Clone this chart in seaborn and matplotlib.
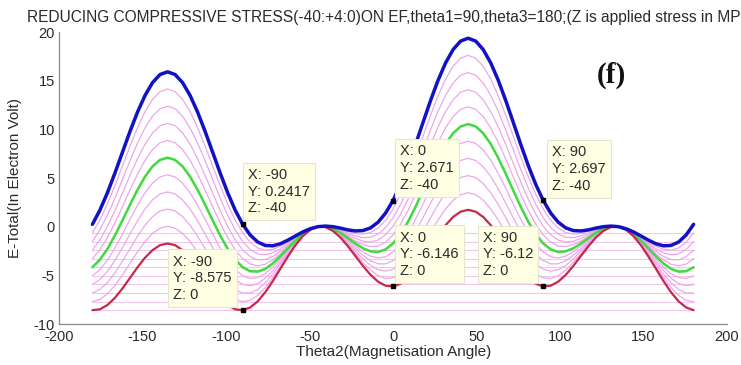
import matplotlib
matplotlib.use("Agg")
import matplotlib.pyplot as plt
import seaborn as sns
import pandas as pd

# ---------------- data ----------------
x_deg = [-180, -175.5, -171, -166.5, -162, -157.5, -153, -148.5, -144, -139.5,
         -135, -130.5, -126, -121.5, -117, -112.5, -108, -103.5, -99, -94.5,
         -90, -85.5, -81, -76.5, -72, -67.5, -63, -58.5, -54, -49.5,
         -45, -40.5, -36, -31.5, -27, -22.5, -18, -13.5, -9, -4.5,
         0, 4.5, 9, 13.5, 18, 22.5, 27, 31.5, 36, 40.5,
         45, 49.5, 54, 58.5, 63, 67.5, 72, 76.5, 81, 85.5,
         90, 94.5, 99, 103.5, 108, 112.5, 117, 121.5, 126, 130.5,
         135, 139.5, 144, 148.5, 153, 157.5, 162, 166.5, 171, 175.5, 180]

z_levels = [0, -4, -8, -12, -16, -20, -24, -28, -32, -36, -40]

e_z0 = [-8.58, -8.49, -8.05, -7.31, -6.35, -5.27, -4.18, -3.19, -2.41, -1.90, -1.73,
        -1.90, -2.41, -3.19, -4.18, -5.27, -6.35, -7.31, -8.05, -8.49, -8.58,
        -8.30, -7.67, -6.74, -5.60, -4.34, -3.08, -1.92, -0.97, -0.32, 0.00,
        -0.05, -0.43, -1.11, -2.01, -3.02, -4.03, -4.94, -5.64, -6.06, -6.14,
        -5.87, -5.26, -4.37, -3.28, -2.09, -0.90, 0.16, 1.00, 1.54, 1.73,
        1.54, 1.00, 0.16, -0.90, -2.09, -3.28, -4.37, -5.26, -5.87, -6.14,
        -6.06, -5.64, -4.94, -4.03, -3.02, -2.01, -1.11, -0.43, -0.05, 0.00,
        -0.32, -0.97, -1.92, -3.08, -4.34, -5.60, -6.74, -7.67, -8.30, -8.58]
e_z4 = [-7.70, -7.47, -6.90, -6.03, -4.95, -3.77, -2.59, -1.53, -0.69, -0.15, 0.04,
        -0.15, -0.69, -1.53, -2.59, -3.77, -4.95, -6.03, -6.90, -7.47, -7.70,
        -7.56, -7.06, -6.26, -5.24, -4.08, -2.91, -1.82, -0.93, -0.30, 0.00,
        -0.03, -0.39, -1.02, -1.84, -2.76, -3.67, -4.46, -5.03, -5.32, -5.26,
        -4.85, -4.11, -3.09, -1.88, -0.58, 0.69, 1.83, 2.72, 3.29, 3.49,
        3.29, 2.72, 1.83, 0.69, -0.58, -1.88, -3.09, -4.11, -4.85, -5.26,
        -5.32, -5.03, -4.46, -3.67, -2.76, -1.84, -1.02, -0.39, -0.03, 0.00,
        -0.30, -0.93, -1.82, -2.91, -4.08, -5.24, -6.26, -7.06, -7.56, -7.70]
e_z8 = [-6.82, -6.45, -5.75, -4.75, -3.55, -2.26, -0.99, 0.14, 1.03, 1.61, 1.80,
        1.61, 1.03, 0.14, -0.99, -2.26, -3.55, -4.75, -5.75, -6.45, -6.82,
        -6.81, -6.45, -5.78, -4.87, -3.82, -2.74, -1.73, -0.89, -0.29, 0.00,
        -0.02, -0.35, -0.92, -1.67, -2.50, -3.31, -3.98, -4.42, -4.57, -4.38,
        -3.83, -2.95, -1.81, -0.48, 0.92, 2.29, 3.49, 4.44, 5.05, 5.25,
        5.05, 4.44, 3.49, 2.29, 0.92, -0.48, -1.81, -2.95, -3.83, -4.38,
        -4.57, -4.42, -3.98, -3.31, -2.50, -1.67, -0.92, -0.35, -0.02, 0.00,
        -0.29, -0.89, -1.73, -2.74, -3.82, -4.87, -5.78, -6.45, -6.81, -6.82]
e_z12 = [-5.94, -5.43, -4.59, -3.47, -2.15, -0.76, 0.60, 1.81, 2.75, 3.36, 3.57,
         3.36, 2.75, 1.81, 0.60, -0.76, -2.15, -3.47, -4.59, -5.43, -5.94,
         -6.07, -5.84, -5.30, -4.51, -3.57, -2.57, -1.63, -0.84, -0.28, 0.00,
         -0.01, -0.30, -0.83, -1.50, -2.25, -2.94, -3.50, -3.81, -3.83, -3.50,
         -2.81, -1.80, -0.53, 0.92, 2.43, 3.88, 5.16, 6.16, 6.80, 7.02,
         6.80, 6.16, 5.16, 3.88, 2.43, 0.92, -0.53, -1.80, -2.81, -3.50,
         -3.83, -3.81, -3.50, -2.94, -2.25, -1.50, -0.83, -0.30, -0.01, 0.00,
         -0.28, -0.84, -1.63, -2.57, -3.57, -4.51, -5.30, -5.84, -6.07, -5.94]
e_z16 = [-5.05, -4.41, -3.44, -2.19, -0.75, 0.75, 2.20, 3.48, 4.47, 5.11, 5.33,
         5.11, 4.47, 3.48, 2.20, 0.75, -0.75, -2.19, -3.44, -4.41, -5.05,
         -5.32, -5.23, -4.82, -4.15, -3.31, -2.40, -1.54, -0.80, -0.27, 0.00,
         0.00, -0.26, -0.73, -1.34, -1.99, -2.58, -3.02, -3.21, -3.09, -2.61,
         -1.79, -0.64, 0.76, 2.32, 3.93, 5.48, 6.83, 7.88, 8.55, 8.78,
         8.55, 7.88, 6.83, 5.48, 3.93, 2.32, 0.76, -0.64, -1.79, -2.61,
         -3.09, -3.21, -3.02, -2.58, -1.99, -1.34, -0.73, -0.26, 0.00, 0.00,
         -0.27, -0.80, -1.54, -2.40, -3.31, -4.15, -4.82, -5.23, -5.32, -5.05]
e_z20 = [-4.17, -3.39, -2.28, -0.90, 0.65, 2.25, 3.79, 5.14, 6.19, 6.86, 7.09,
         6.86, 6.19, 5.14, 3.79, 2.25, 0.65, -0.90, -2.28, -3.39, -4.17,
         -4.58, -4.62, -4.34, -3.78, -3.05, -2.23, -1.44, -0.76, -0.26, 0.00,
         0.01, -0.22, -0.63, -1.17, -1.73, -2.22, -2.53, -2.60, -2.34, -1.73,
         -0.77, 0.51, 2.04, 3.72, 5.44, 7.07, 8.50, 9.60, 10.30, 10.54,
         10.30, 9.60, 8.50, 7.07, 5.44, 3.72, 2.04, 0.51, -0.77, -1.73,
         -2.34, -2.60, -2.53, -2.22, -1.73, -1.17, -0.63, -0.22, 0.01, 0.00,
         -0.26, -0.76, -1.44, -2.23, -3.05, -3.78, -4.34, -4.62, -4.58, -4.17]
e_z24 = [-3.29, -2.37, -1.13, 0.38, 2.05, 3.76, 5.39, 6.81, 7.91, 8.62, 8.86,
         8.62, 7.91, 6.81, 5.39, 3.76, 2.05, 0.38, -1.13, -2.37, -3.29,
         -3.84, -4.02, -3.86, -3.42, -2.79, -2.07, -1.34, -0.71, -0.25, 0.00,
         0.02, -0.17, -0.54, -1.00, -1.47, -1.85, -2.05, -1.99, -1.60, -0.85,
         0.25, 1.66, 3.32, 5.12, 6.94, 8.67, 10.16, 11.32, 12.06, 12.31,
         12.06, 11.32, 10.16, 8.67, 6.94, 5.12, 3.32, 1.66, 0.25, -0.85,
         -1.60, -1.99, -2.05, -1.85, -1.47, -1.00, -0.54, -0.17, 0.02, 0.00,
         -0.25, -0.71, -1.34, -2.07, -2.79, -3.42, -3.86, -4.02, -3.84, -3.29]
e_z28 = [-2.41, -1.35, 0.03, 1.66, 3.45, 5.26, 6.98, 8.48, 9.63, 10.37, 10.62,
         10.37, 9.63, 8.48, 6.98, 5.26, 3.45, 1.66, 0.03, -1.35, -2.41,
         -3.09, -3.41, -3.37, -3.06, -2.53, -1.90, -1.25, -0.67, -0.24, 0.00,
         0.03, -0.13, -0.44, -0.83, -1.21, -1.49, -1.57, -1.38, -0.85, 0.03,
         1.27, 2.82, 4.60, 6.52, 8.45, 10.26, 11.83, 13.04, 13.81, 14.07,
         13.81, 13.04, 11.83, 10.26, 8.45, 6.52, 4.60, 2.82, 1.27, 0.03,
         -0.85, -1.38, -1.57, -1.49, -1.21, -0.83, -0.44, -0.13, 0.03, 0.00,
         -0.24, -0.67, -1.25, -1.90, -2.53, -3.06, -3.37, -3.41, -3.09, -2.41]
e_z32 = [-1.53, -0.33, 1.18, 2.94, 4.85, 6.77, 8.58, 10.14, 11.35, 12.12, 12.38,
         12.12, 11.35, 10.14, 8.58, 6.77, 4.85, 2.94, 1.18, -0.33, -1.53,
         -2.35, -2.80, -2.89, -2.69, -2.27, -1.73, -1.15, -0.63, -0.23, 0.00,
         0.04, -0.09, -0.35, -0.66, -0.95, -1.13, -1.09, -0.77, -0.11, 0.91,
         2.29, 3.97, 5.88, 7.92, 9.96, 11.86, 13.50, 14.76, 15.56, 15.83,
         15.56, 14.76, 13.50, 11.86, 9.96, 7.92, 5.88, 3.97, 2.29, 0.91,
         -0.11, -0.77, -1.09, -1.13, -0.95, -0.66, -0.35, -0.09, 0.04, 0.00,
         -0.23, -0.63, -1.15, -1.73, -2.27, -2.69, -2.89, -2.80, -2.35, -1.53]
e_z36 = [-0.64, 0.68, 2.33, 4.22, 6.25, 8.27, 10.17, 11.81, 13.08, 13.87, 14.15,
         13.87, 13.08, 11.81, 10.17, 8.27, 6.25, 4.22, 2.33, 0.68, -0.64,
         -1.61, -2.19, -2.41, -2.33, -2.02, -1.56, -1.06, -0.58, -0.22, 0.00,
         0.05, -0.04, -0.25, -0.49, -0.70, -0.76, -0.61, -0.16, 0.63, 1.80,
         3.31, 5.13, 7.17, 9.32, 11.46, 13.45, 15.17, 16.48, 17.31, 17.60,
         17.31, 16.48, 15.17, 13.45, 11.46, 9.32, 7.17, 5.13, 3.31, 1.80,
         0.63, -0.16, -0.61, -0.76, -0.70, -0.49, -0.25, -0.04, 0.05, 0.00,
         -0.22, -0.58, -1.06, -1.56, -2.02, -2.33, -2.41, -2.19, -1.61, -0.64]
e_z40 = [0.24, 1.70, 3.49, 5.51, 7.65, 9.78, 11.77, 13.48, 14.80, 15.63, 15.91,
         15.63, 14.80, 13.48, 11.77, 9.78, 7.65, 5.51, 3.49, 1.70, 0.24,
         -0.86, -1.58, -1.93, -1.97, -1.76, -1.39, -0.96, -0.54, -0.21, 0.00,
         0.06, 0.00, -0.15, -0.33, -0.44, -0.40, -0.13, 0.45, 1.38, 2.68,
         4.33, 6.28, 8.45, 10.72, 12.97, 15.05, 16.83, 18.20, 19.07, 19.36,
         19.07, 18.20, 16.83, 15.05, 12.97, 10.72, 8.45, 6.28, 4.33, 2.68,
         1.38, 0.45, -0.13, -0.40, -0.44, -0.33, -0.15, 0.00, 0.06, 0.00,
         -0.21, -0.54, -0.96, -1.39, -1.76, -1.97, -1.93, -1.58, -0.86, 0.24]

hline_levels = [-8.58, -7.70, -6.82, -5.94, -5.05, -4.17, -3.29, -2.41, -1.53, -0.64]
hline_span = [-180, 180]

tip_x = [-90, -90, 0, 0, 90, 90]
tip_y = [0.2417, -8.575, 2.671, -6.146, 2.697, -6.12]
tip_z = [-40, 0, -40, 0, -40, 0]

title_text = ("REDUCING COMPRESSIVE STRESS(-40:+4:0)ON EF,theta1=90,theta3=180;"
              "(Z is applied stress in MPa)")
x_label = "Theta2(Magnetisation Angle)"
y_label = "E-Total(In Electron Volt)"
panel_label = "(f)"
x_ticks = [-200, -150, -100, -50, 0, 50, 100, 150, 200]
y_ticks = [-10, -5, 0, 5, 10, 15, 20]

# ---------------- build table ----------------
curves = [e_z0, e_z4, e_z8, e_z12, e_z16, e_z20, e_z24, e_z28, e_z32, e_z36, e_z40]
rows = []
for z, vals in zip(z_levels, curves):
    for xv, yv in zip(x_deg, vals):
        rows.append({"theta": xv, "energy": yv, "Z": z})
df = pd.DataFrame(rows)

# ---------------- style ----------------
sns.set_style("white")
plt.rcParams["font.family"] = ["Liberation Sans", "DejaVu Sans"]
axis_gray = "#8a8a8a"
text_col = "#2a2a2a"

fig = plt.figure(figsize=(7.41, 3.65), dpi=100)
ax = fig.add_axes([59 / 741, 1 - 324 / 365, (727 - 59) / 741, (324 - 32) / 365])

# faint horizontal lines
for lev in hline_levels:
    ax.plot(hline_span, [lev, lev], color="#F3C6EC", lw=0.8, zorder=1)

def style_for(z):
    if z == 0:
        return "#C8284A", 1.6, 4
    if z == -20:
        return "#3FDA3F", 1.8, 4
    if z == -40:
        return "#1212C4", 2.5, 5
    return "#EDA2EA", 0.85, 2

order = [z for z in z_levels if z not in (0, -20, -40)] + [-20, 0, -40]
for z in order:
    col, lw, zo = style_for(z)
    sub = df[df["Z"] == z]
    sns.lineplot(data=sub, x="theta", y="energy", color=col, linewidth=lw,
                 ax=ax, sort=False, estimator=None, legend=False, zorder=zo)

# axes styling
ax.set_xlim(-200, 200)
ax.set_ylim(-10, 20)
ax.set_xticks(x_ticks)
ax.set_yticks(y_ticks)
ax.set_xticklabels([str(t) for t in x_ticks])
ax.set_yticklabels([str(t) for t in y_ticks])
ax.set_xlabel("")
ax.set_ylabel("")
for s in ["top", "right"]:
    ax.spines[s].set_visible(False)
for s in ["left", "bottom"]:
    ax.spines[s].set_color(axis_gray)
    ax.spines[s].set_linewidth(0.9)
ax.tick_params(direction="in", length=3.5, width=0.8, color=axis_gray,
               labelsize=10.5, labelcolor=text_col)
ax.tick_params(axis="x", pad=4)
ax.tick_params(axis="y", pad=3)

# data tips
offsets = [(3.6, 6.5, "left"), (-7.9, 5.8, "right"), (5.0, 6.3, "left"),
           (5.0, 6.1, "left"), (6.5, 5.4, "left"), (-7.2, 5.8, "right")]
for (tx, ty, tz), (dx, dy, ha) in zip(zip(tip_x, tip_y, tip_z), offsets):
    ax.plot([tx], [ty], marker="s", ms=2.5, color="black", zorder=8)
    ax.annotate(f"X: {tx}\nY: {ty}\nZ: {tz}", xy=(tx, ty), xytext=(dx, dy),
                textcoords="offset points", ha=ha, va="bottom", multialignment="left",
                fontsize=10.5, color=text_col, linespacing=1.25, zorder=9,
                bbox=dict(boxstyle="square,pad=0.35", fc="#FFFFE3", ec="#E6E6CF", lw=0.8))

# texts
fig.text(27 / 741, 1 - 22 / 365, title_text, ha="left", va="baseline",
         fontsize=11.2, color=text_col)
fig.text(394 / 741, 1 - 352 / 365, x_label, ha="center", va="center",
         fontsize=11, color=text_col)
fig.text(15 / 741, 1 - 178 / 365, y_label, ha="center", va="center",
         rotation=90, fontsize=11, color=text_col)
fig.text(611 / 741, 1 - 75 / 365, panel_label, ha="center", va="center",
         fontsize=21, fontweight="bold", family="Liberation Serif", color="#111111")

fig.savefig("out.png", dpi=100)
